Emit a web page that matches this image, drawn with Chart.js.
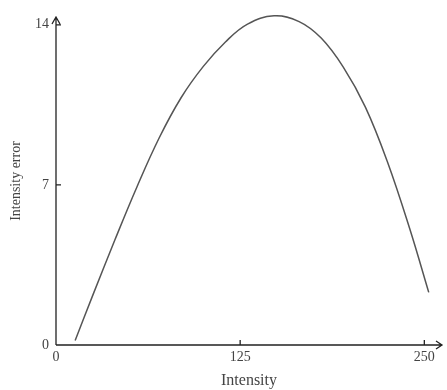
<!DOCTYPE html>
<html>
<head>
<meta charset="utf-8">
<script src="https://cdn.jsdelivr.net/npm/chart.js@4/dist/chart.umd.min.js"></script>
<style>
html,body{margin:0;padding:0;background:#fff;}
#wrap{width:447px;height:390px;position:relative;}
</style>
</head>
<body>
<div id="wrap"><canvas id="c" width="447" height="390"></canvas></div>
<script>
const intensity = [13, 25, 40, 55, 70, 85, 100, 115, 130, 148, 165, 180, 195, 210, 225, 240, 253];
const intensityError = [0.2, 2.18, 4.6, 6.92, 9.05, 10.82, 12.18, 13.25, 14.03, 14.39, 14.14, 13.42, 12.15, 10.4, 8.0, 5.1, 2.3];
const xTicks = [0, 125, 250];
const yTicks = [0, 7, 14];
const xTitle = 'Intensity';
const yTitle = 'Intensity error';

const points = intensity.map((x, i) => ({x: x, y: intensityError[i]}));

const axisPlugin = {
  id: 'axisArrows',
  afterDraw(chart) {
    const ctx = chart.ctx;
    const a = chart.chartArea;
    const xs = chart.scales.x, ys = chart.scales.y;
    ctx.save();
    ctx.strokeStyle = '#222';
    ctx.lineWidth = 1.3;
    ctx.beginPath();
    ctx.moveTo(a.left, a.bottom);
    ctx.lineTo(a.right, a.bottom);
    ctx.moveTo(a.left, a.bottom);
    ctx.lineTo(a.left, a.top);
    ctx.moveTo(a.right - 6, a.bottom - 4);
    ctx.lineTo(a.right, a.bottom);
    ctx.lineTo(a.right - 6, a.bottom + 4);
    ctx.moveTo(a.left - 4, a.top + 7);
    ctx.lineTo(a.left, a.top);
    ctx.lineTo(a.left + 4, a.top + 7);
    xTicks.forEach(v => { if (v !== 0) { const p = xs.getPixelForValue(v); ctx.moveTo(p, a.bottom); ctx.lineTo(p, a.bottom - 5); } });
    yTicks.forEach(v => { if (v !== 0) { const p = ys.getPixelForValue(v); ctx.moveTo(a.left, p); ctx.lineTo(a.left + 5, p); } });
    ctx.stroke();
    ctx.restore();
  }
};

new Chart(document.getElementById('c'), {
  type: 'line',
  data: {
    datasets: [{
      data: points,
      borderColor: '#555',
      borderWidth: 1.5,
      pointRadius: 0,
      fill: false,
      tension: 0.4,
      clip: false
    }]
  },
  options: {
    responsive: false,
    animation: false,
    devicePixelRatio: 1,
    layout: {padding: {left: 0, right: 5, top: 17, bottom: 0}},
    plugins: {legend: {display: false}, tooltip: {enabled: false}},
    scales: {
      x: {
        type: 'linear',
        min: 0,
        max: 262,
        grid: {display: false, drawTicks: false},
        border: {display: false},
        afterBuildTicks: s => { s.ticks = xTicks.map(v => ({value: v})); },
        afterFit: s => { s.height = 45; },
        ticks: {color: '#444', padding: 4, maxRotation: 0, font: {family: 'Liberation Serif', size: 14}},
        title: {display: true, text: xTitle, color: '#444', padding: {top: 0, bottom: 0}, font: {family: 'Liberation Serif', size: 16}}
      },
      y: {
        type: 'linear',
        min: 0,
        max: 14.34,
        grid: {display: false, drawTicks: false},
        border: {display: false},
        afterBuildTicks: s => { s.ticks = yTicks.map(v => ({value: v})); },
        afterFit: s => { s.width = 56; },
        ticks: {color: '#444', padding: 7, font: {family: 'Liberation Serif', size: 14}},
        title: {display: true, text: yTitle, color: '#444', padding: {top: 8, bottom: 0}, font: {family: 'Liberation Serif', size: 14}}
      }
    }
  },
  plugins: [axisPlugin]
});
</script>
</body>
</html>
